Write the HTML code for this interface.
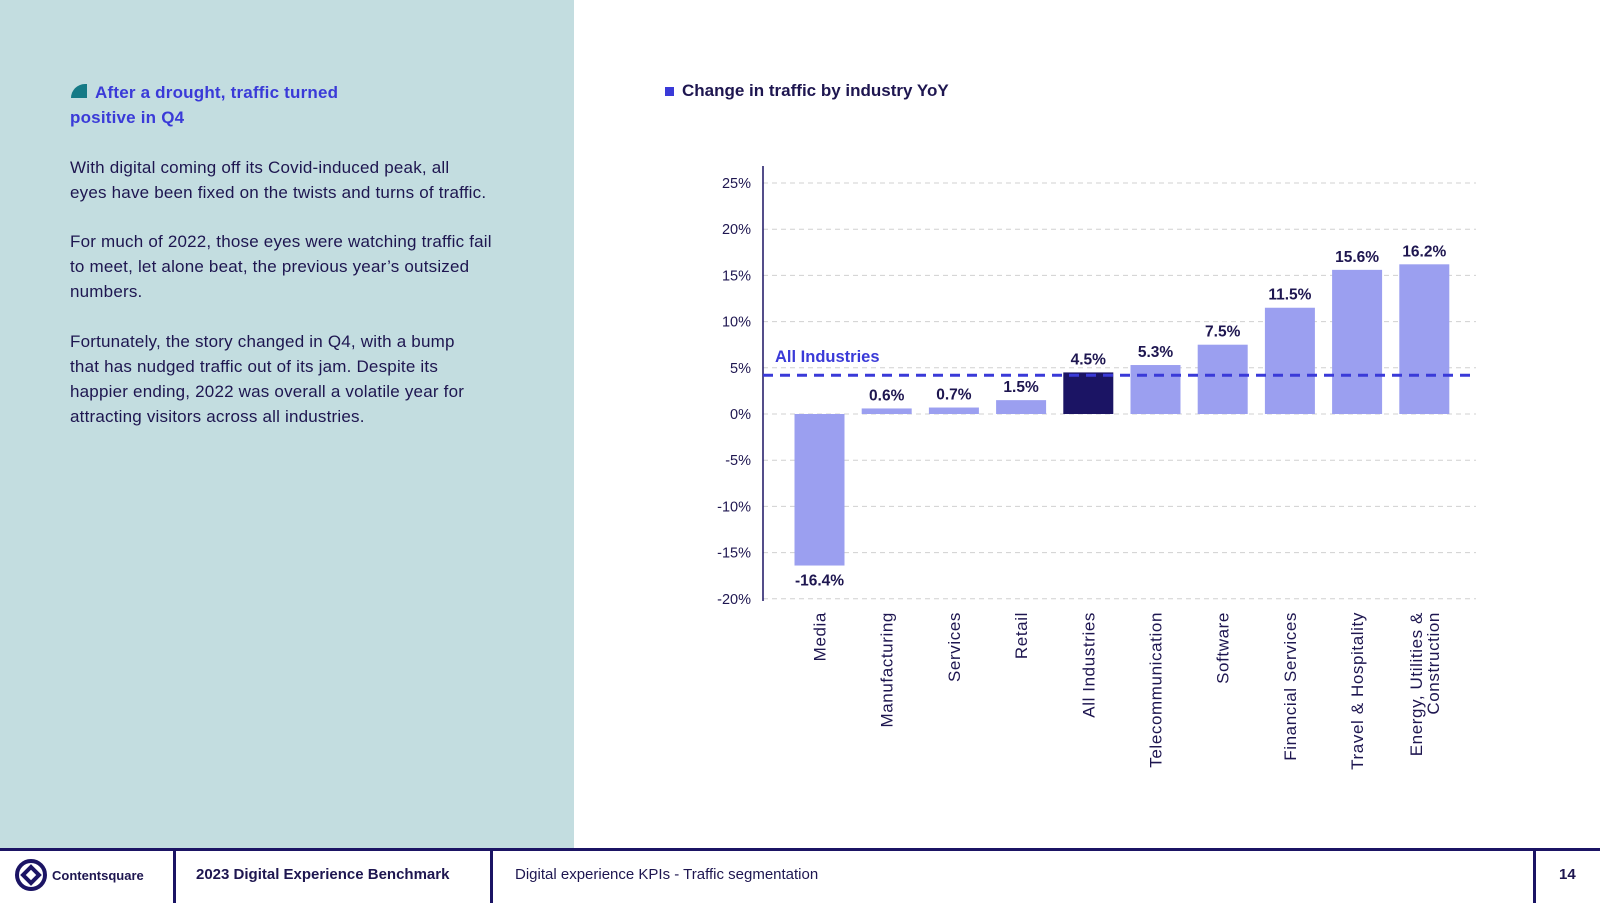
<!DOCTYPE html>
<html><head><meta charset="utf-8"><style>
body{margin:0;width:1600px;height:900px;position:relative;overflow:hidden;background:#fff;font-family:"Liberation Sans",sans-serif;color:#1e1650}
#left{position:absolute;left:0;top:0;width:574px;height:848px;background:#c3dde0}
.p{position:absolute;left:70px;font-size:17px;line-height:25px;width:480px;white-space:nowrap;letter-spacing:0.2px}
#footer{position:absolute;left:0;top:848px;width:1600px;height:52px;border-top:3px solid #1b1464;box-sizing:border-box}
.div{position:absolute;top:0;width:3px;height:52px;background:#1b1464}
.ft{position:absolute;top:15px;font-size:15px}
</style></head><body>
<div id="left">
 <div style="position:absolute;left:71px;top:84px;width:16px;height:14px;background:#157a86;border-radius:14px 0 0 0"></div>
 <div class="p" style="top:80px;color:#3a3ad8;font-weight:bold;width:300px"><span style="padding-left:25px">After a drought, traffic turned</span><br>positive in Q4</div>
 <div class="p" style="top:155px">With digital coming off its Covid-induced peak, all<br>eyes have been fixed on the twists and turns of traffic.</div>
 <div class="p" style="top:229px">For much of 2022, those eyes were watching traffic fail<br>to meet, let alone beat, the previous year’s outsized<br>numbers.</div>
 <div class="p" style="top:329px">Fortunately, the story changed in Q4, with a bump<br>that has nudged traffic out of its jam. Despite its<br>happier ending, 2022 was overall a volatile year for<br>attracting visitors across all industries.</div>
</div>
<div style="position:absolute;left:665px;top:81px;font-size:17px;font-weight:bold"><span style="display:inline-block;width:9px;height:9px;background:#3a3ad8;margin-right:8px"></span>Change in traffic by industry YoY</div>
<svg id="chart" width="1600" height="848" style="position:absolute;left:0;top:0"></svg>
<div id="footer">
 <svg width="34" height="34" style="position:absolute;left:14px;top:7px" viewBox="0 0 34 34"><circle cx="17" cy="17" r="14" fill="none" stroke="#1b1464" stroke-width="4"/><path d="M17 9 L25 17 L17 25 L9 17 Z" fill="#fff" stroke="#1b1464" stroke-width="4"/></svg>
 <div class="ft" style="left:52px;font-weight:bold;font-size:13px;top:17px">Contentsquare</div>
 <div class="div" style="left:173px"></div>
 <div class="ft" style="left:196px;font-weight:bold">2023 Digital Experience Benchmark</div>
 <div class="div" style="left:490px"></div>
 <div class="ft" style="left:515px">Digital experience KPIs - Traffic segmentation</div>
 <div class="div" style="left:1533px"></div>
 <div class="ft" style="left:1559px;font-weight:bold">14</div>
</div>
<script>
const categories=["Media","Manufacturing","Services","Retail","All Industries","Telecommunication","Software","Financial Services","Travel & Hospitality","Energy, Utilities &|Construction"];
const values=[-16.4,0.6,0.7,1.5,4.5,5.3,7.5,11.5,15.6,16.2];
const ticks=[25,20,15,10,5,0,-5,-10,-15,-20];
const avgValue=4.2;
const svg=document.getElementById('chart');const NS='http://www.w3.org/2000/svg';
const y=v=>414-v*9.24;
const x=i=>819.5+i*67.2;
function mk(t,a,txt){const e=document.createElementNS(NS,t);for(const k in a)e.setAttribute(k,a[k]);if(txt!=null)e.textContent=txt;svg.appendChild(e);return e;}
ticks.forEach(t=>{
 const g=mk('line',{x1:763,x2:1476,y1:y(t),y2:y(t),stroke:'#d0d0d0','stroke-dasharray':'5,4'});
 
 
 const l=mk('text',{x:751,y:y(t)+5,'text-anchor':'end','font-size':14.5,fill:'#1e1650'},t+'%');
 
 
});
const ax=mk('line',{x1:763,x2:763,y1:166,y2:601,stroke:'#1b1464','stroke-width':1.5});


values.forEach((v,i)=>{
 const top=Math.min(y(v),y(0)),h=Math.abs(y(v)-y(0));
 const r=mk('rect',{x:x(i)-25,y:top,width:50,height:Math.max(h,1),fill:i==4?'#1b1464':'#9b9ff0'});
 
 
 const ly=v<0?y(v)+20:y(v)-8;
 const t=mk('text',{x:x(i),y:ly,'text-anchor':'middle','font-size':15.5,'font-weight':'bold',fill:'#1e1650'},v.toFixed(1)+'%');
 
 
 const parts=categories[i].split('|');
 parts.forEach((p,j)=>{
  const px=x(i)+6+(j-(parts.length-1)/2)*17;
  const c=mk('text',{x:px,y:612,'text-anchor':'end','font-size':17,'letter-spacing':0.6,fill:'#1e1650',transform:`rotate(-90 ${px} 612)`},p);
  
  
 });
});
const al=mk('line',{x1:763,x2:1476,y1:y(avgValue),y2:y(avgValue),stroke:'#3a3ad8','stroke-width':3,'stroke-dasharray':'10,7'});


const at=mk('text',{x:775,y:362,'font-size':16.5,'font-weight':'bold',fill:'#3a3ad8'},'All Industries');


</script>
</body></html>
